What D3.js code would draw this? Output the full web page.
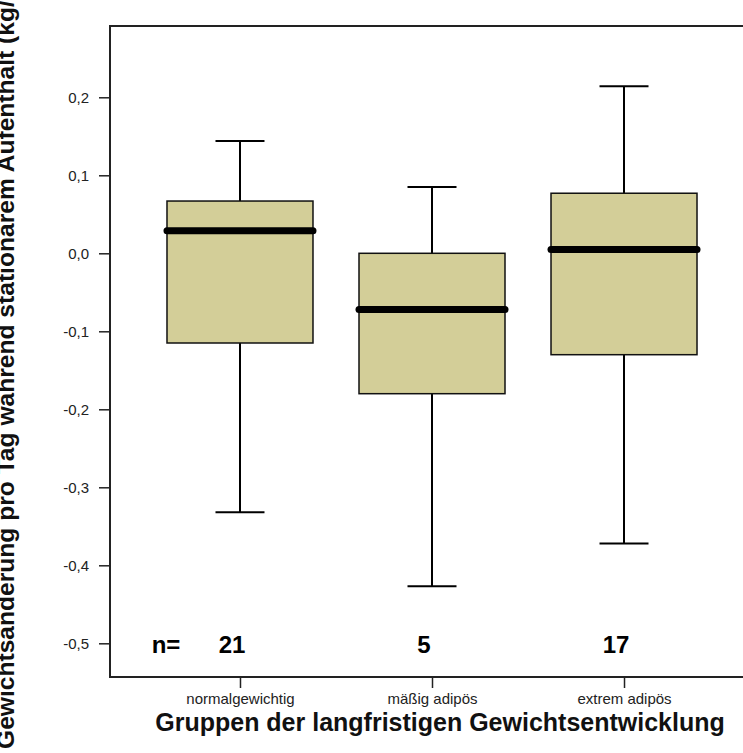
<!DOCTYPE html>
<html><head><meta charset="utf-8">
<script src="https://cdn.jsdelivr.net/npm/d3@7"></script>
<style>html,body{margin:0;padding:0;background:#fff;overflow:hidden}</style>
</head><body>
<svg id="c" width="743" height="753"></svg>
<script>
const categories = ["normalgewichtig", "mäßig adipös", "extrem adipös"];
const nCounts = [21, 5, 17];
const whiskerHigh = [0.144, 0.085, 0.214];
const q3Values = [0.067, 0.0, 0.077];
const medianValues = [0.029, -0.072, 0.005];
const q1Values = [-0.115, -0.18, -0.13];
const whiskerLow = [-0.332, -0.427, -0.372];
const yTicks = [0.2, 0.1, 0.0, -0.1, -0.2, -0.3, -0.4, -0.5];
const yTitle = "Gewichtsänderung pro Tag während stationärem Aufenthalt (kg/Tag)";
const xTitle = "Gruppen der langfristigen Gewichtsentwicklung";

const svg = d3.select("#c");
const L = 110, R = 754, T = 26, B = 677;
const y = d3.scaleLinear().domain([-0.5432, 0.2914]).range([B, T]);
const x = d3.scalePoint().domain(categories).range([L, R]).padding(0.677);
const boxW = 146, capW = 49;
const font = "Arial, 'Liberation Sans', sans-serif";

const boxes = categories.map((c, i) => ({c, hi: whiskerHigh[i], q3: q3Values[i], med: medianValues[i], q1: q1Values[i], lo: whiskerLow[i], n: nCounts[i]}));

// y axis
const yAxis = d3.axisLeft(y).tickValues(yTicks).tickSize(11).tickPadding(10)
  .tickFormat(d => d3.format(".1f")(d).replace(".", ",").replace("−", "-"));
const ya = svg.append("g").attr("transform", `translate(${L},0)`).call(yAxis);
ya.select(".domain").remove();
ya.selectAll("line").attr("stroke", "#222").attr("stroke-width", 1.5);
ya.selectAll("text").attr("font-family", font).attr("font-size", 15).attr("fill", "#222");

// x axis
const xAxis = d3.axisBottom(x).tickSize(11).tickPadding(5);
const xa = svg.append("g").attr("transform", `translate(0,${B})`).call(xAxis);
xa.select(".domain").remove();
xa.selectAll("line").attr("stroke", "#222").attr("stroke-width", 1.5);
xa.selectAll("text").attr("font-family", font).attr("font-size", 15).attr("fill", "#222");

// frame
svg.append("rect").attr("x", L).attr("y", T).attr("width", R - L).attr("height", B - T)
  .attr("fill", "none").attr("stroke", "#222").attr("stroke-width", 2);

const g = svg.append("g");
// whiskers
g.selectAll(".wh").data(boxes).join("line")
  .attr("x1", d => x(d.c)).attr("x2", d => x(d.c))
  .attr("y1", d => y(d.hi)).attr("y2", d => y(d.q3))
  .attr("stroke", "#000").attr("stroke-width", 2);
g.selectAll(".wl").data(boxes).join("line")
  .attr("x1", d => x(d.c)).attr("x2", d => x(d.c))
  .attr("y1", d => y(d.q1)).attr("y2", d => y(d.lo))
  .attr("stroke", "#000").attr("stroke-width", 2);
g.selectAll(".ch").data(boxes).join("line")
  .attr("x1", d => x(d.c) - capW / 2).attr("x2", d => x(d.c) + capW / 2)
  .attr("y1", d => y(d.hi)).attr("y2", d => y(d.hi))
  .attr("stroke", "#000").attr("stroke-width", 2);
g.selectAll(".cl").data(boxes).join("line")
  .attr("x1", d => x(d.c) - capW / 2).attr("x2", d => x(d.c) + capW / 2)
  .attr("y1", d => y(d.lo)).attr("y2", d => y(d.lo))
  .attr("stroke", "#000").attr("stroke-width", 2);
// boxes
g.selectAll(".box").data(boxes).join("rect")
  .attr("x", d => x(d.c) - boxW / 2).attr("width", boxW)
  .attr("y", d => y(d.q3)).attr("height", d => y(d.q1) - y(d.q3))
  .attr("fill", "#D3CE98").attr("stroke", "#111").attr("stroke-width", 1.5);
// medians
g.selectAll(".med").data(boxes).join("line")
  .attr("x1", d => x(d.c) - boxW / 2).attr("x2", d => x(d.c) + boxW / 2)
  .attr("y1", d => y(d.med)).attr("y2", d => y(d.med))
  .attr("stroke", "#000").attr("stroke-width", 7).attr("stroke-linecap", "round");

// n labels
svg.append("text").attr("x", 166).attr("y", 653).attr("text-anchor", "middle")
  .attr("font-family", font).attr("font-weight", "bold").attr("font-size", 24).text("n=");
svg.selectAll(".n").data(boxes).join("text")
  .attr("x", d => x(d.c) - 8).attr("y", 653).attr("text-anchor", "middle")
  .attr("font-family", font).attr("font-weight", "bold").attr("font-size", 24).text(d => d.n);

// axis titles
svg.append("text").attr("x", 440).attr("y", 731).attr("text-anchor", "middle")
  .attr("font-family", font).attr("font-weight", "bold").attr("font-size", 25).attr("fill", "#111").text(xTitle);
svg.append("text").attr("transform", "translate(14,749) rotate(-90)").attr("text-anchor", "start")
  .attr("font-family", font).attr("font-weight", "bold").attr("font-size", 24.6).attr("fill", "#111").text(yTitle);
</script>
</body></html>
